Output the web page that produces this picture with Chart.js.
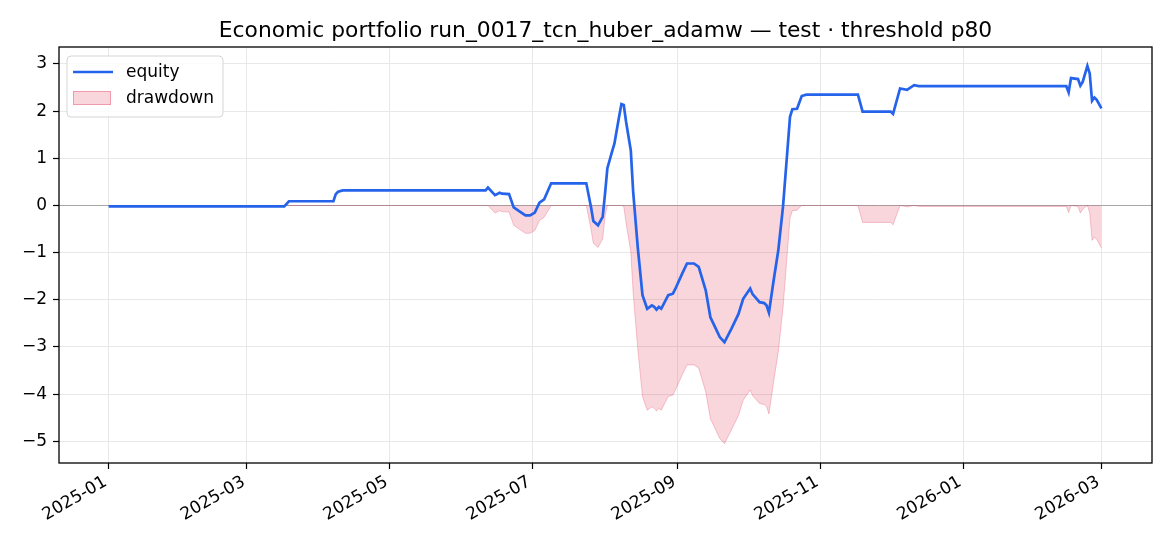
<!DOCTYPE html>
<html>
<head>
<meta charset="utf-8">
<script src="https://cdn.jsdelivr.net/npm/chart.js@4.4.1/dist/chart.umd.min.js"></script>
<style>
  html, body { margin: 0; padding: 0; background: #fff; }
</style>
</head>
<body>
<canvas id="c" width="1170" height="546"></canvas>
<script>
// values
const dates = [
  '2025-01-01','2025-03-17','2025-03-19','2025-04-07','2025-04-08','2025-04-09','2025-04-11',
  '2025-06-11','2025-06-12','2025-06-15','2025-06-17','2025-06-18','2025-06-21','2025-06-23',
  '2025-06-25','2025-06-28','2025-06-30','2025-07-02','2025-07-04','2025-07-06','2025-07-09',
  '2025-07-24','2025-07-26','2025-07-27','2025-07-29','2025-07-31','2025-08-01','2025-08-02',
  '2025-08-04','2025-08-05','2025-08-07','2025-08-08','2025-08-09','2025-08-10','2025-08-12',
  '2025-08-13','2025-08-15','2025-08-17','2025-08-19','2025-08-21','2025-08-22','2025-08-23',
  '2025-08-24','2025-08-25','2025-08-28','2025-08-30','2025-08-31','2025-09-03','2025-09-05',
  '2025-09-08','2025-09-10','2025-09-13','2025-09-15','2025-09-17','2025-09-19','2025-09-21',
  '2025-09-24','2025-09-27','2025-09-29','2025-10-02','2025-10-03','2025-10-06','2025-10-08',
  '2025-10-09','2025-10-10','2025-10-12','2025-10-14','2025-10-16','2025-10-18','2025-10-19',
  '2025-10-20','2025-10-22','2025-10-24','2025-10-26','2025-11-17','2025-11-19','2025-12-01',
  '2025-12-02','2025-12-05','2025-12-08','2025-12-11','2025-12-13','2026-02-14','2026-02-15',
  '2026-02-16','2026-02-19','2026-02-20','2026-02-21','2026-02-23','2026-02-24','2026-02-25',
  '2026-02-26','2026-02-27','2026-03-01'
];
const equity = [
  -0.02,-0.02,0.09,0.09,0.24,0.29,0.32,
  0.32,0.38,0.22,0.27,0.25,0.24,-0.04,
  -0.11,-0.21,-0.21,-0.15,0.06,0.13,0.47,
  0.47,-0.03,-0.33,-0.42,-0.24,0.25,0.79,
  1.14,1.31,1.88,2.15,2.13,1.77,1.17,
  0.30,-0.90,-1.90,-2.19,-2.12,-2.15,-2.21,
  -2.15,-2.19,-1.90,-1.87,-1.77,-1.44,-1.23,
  -1.23,-1.30,-1.80,-2.37,-2.58,-2.79,-2.90,
  -2.61,-2.30,-1.98,-1.76,-1.88,-2.05,-2.07,
  -2.12,-2.27,-1.59,-0.95,-0.03,1.24,1.88,
  2.04,2.05,2.32,2.35,2.35,1.99,1.99,
  1.94,2.48,2.45,2.55,2.53,2.53,2.40,
  2.70,2.68,2.54,2.62,2.96,2.80,2.22,
  2.29,2.24,2.06
];
const drawdown = [
  0,0,0,0,0,0,0,
  0,0,-0.16,-0.11,-0.13,-0.14,-0.42,
  -0.49,-0.59,-0.59,-0.53,-0.32,-0.25,0,
  0,-0.50,-0.80,-0.89,-0.71,-0.22,0,
  0,0,0,0,-0.02,-0.38,-0.98,
  -1.85,-3.05,-4.05,-4.34,-4.27,-4.30,-4.36,
  -4.30,-4.34,-4.05,-4.02,-3.92,-3.59,-3.38,
  -3.38,-3.45,-3.95,-4.52,-4.73,-4.94,-5.05,
  -4.76,-4.45,-4.13,-3.91,-4.03,-4.20,-4.22,
  -4.27,-4.42,-3.74,-3.10,-2.18,-0.91,-0.27,
  -0.11,-0.10,0,0,0,-0.36,-0.36,
  -0.41,0,-0.03,0,-0.02,-0.02,-0.15,
  0,-0.02,-0.16,-0.08,0,-0.16,-0.74,
  -0.67,-0.72,-0.90
];
const xTickLabels = ['2025-01','2025-03','2025-05','2025-07','2025-09','2025-11','2026-01','2026-03'];
const yTicks = [-5,-4,-3,-2,-1,0,1,2,3];

const titleText = 'Economic portfolio run_0017_tcn_huber_adamw \u2014 test \u00b7 threshold p80';
const FONT = '"DejaVu Sans", sans-serif';
const blue = '#2563eb';
const pinkFill = 'rgba(220,20,60,0.18)';
const pinkEdge = 'rgba(220,20,60,0.22)';

// days since 2025-01-01
const day = s => (Date.parse(s) - Date.parse('2025-01-01')) / 864e5;
const xTickDays = xTickLabels.map(l => day(l + '-01'));

const equityPts = dates.map((d, i) => ({ x: day(d), y: equity[i] }));
const ddPts = dates.map((d, i) => ({ x: day(d), y: drawdown[i] }));

const decor = {
  id: 'decor',
  afterDraw(chart) {
    const ctx = chart.ctx;
    const ca = chart.chartArea;
    ctx.save();
    // frame
    ctx.strokeStyle = '#000';
    ctx.lineWidth = 1.3;
    ctx.strokeRect(ca.left, ca.top, ca.right - ca.left, ca.bottom - ca.top);

    // title
    ctx.fillStyle = '#000';
    ctx.font = '21.8px ' + FONT;
    ctx.textAlign = 'center';
    ctx.textBaseline = 'alphabetic';
    ctx.fillText(titleText, (ca.left + ca.right) / 2, 37);

    // legend
    const lx = ca.left + 8, ly = ca.top + 9;
    ctx.beginPath();
    ctx.roundRect(lx, ly, 156, 61, 4);
    ctx.fillStyle = 'rgba(255,255,255,0.85)';
    ctx.fill();
    ctx.strokeStyle = '#d5d5d5';
    ctx.lineWidth = 1;
    ctx.stroke();

    ctx.beginPath();
    ctx.moveTo(lx + 6, ly + 16);
    ctx.lineTo(lx + 46, ly + 16);
    ctx.strokeStyle = blue;
    ctx.lineWidth = 2.6;
    ctx.stroke();

    ctx.fillStyle = pinkFill;
    ctx.fillRect(lx + 6, ly + 35, 38, 14);
    ctx.strokeStyle = 'rgba(220,20,60,0.3)';
    ctx.lineWidth = 1;
    ctx.strokeRect(lx + 6.5, ly + 35.5, 37, 13);

    ctx.fillStyle = '#000';
    ctx.font = '17px ' + FONT;
    ctx.textAlign = 'left';
    ctx.textBaseline = 'middle';
    ctx.fillText('equity', lx + 59, ly + 17);
    ctx.fillText('drawdown', lx + 59, ly + 43);
    ctx.restore();
  }
};

new Chart(document.getElementById('c'), {
  type: 'line',
  data: {
    datasets: [
      {
        label: 'drawdown',
        data: ddPts,
        fill: 'origin',
        backgroundColor: pinkFill,
        borderColor: pinkEdge,
        borderWidth: 1,
        pointRadius: 0,
        tension: 0,
        order: 2
      },
      {
        label: 'equity',
        data: equityPts,
        fill: false,
        borderColor: blue,
        borderWidth: 2.7,
        pointRadius: 0,
        tension: 0,
        order: 1
      }
    ]
  },
  options: {
    responsive: false,
    animation: false,
    devicePixelRatio: 1,
    layout: { padding: { top: 47, right: 18, left: 0, bottom: 0 } },
    plugins: {
      legend: { display: false },
      title: { display: false },
      tooltip: { enabled: false }
    },
    scales: {
      x: {
        type: 'linear',
        min: -21.2,
        max: 445.6,
        afterBuildTicks: s => { s.ticks = xTickDays.map(v => ({ value: v })); },
        afterFit: s => { s.height = 83; },
        grid: { color: '#e8e8e8', lineWidth: 1, tickLength: 6, tickColor: '#000', tickWidth: 1.2 },
        border: { display: false },
        ticks: {
          autoSkip: false,
          minRotation: 30,
          maxRotation: 30,
          padding: 3,
          labelOffset: -3,
          color: '#000',
          font: { family: FONT, size: 17 },
          callback: v => xTickLabels[xTickDays.indexOf(v)]
        }
      },
      y: {
        min: -5.46,
        max: 3.36,
        afterBuildTicks: s => { s.ticks = yTicks.map(v => ({ value: v })); },
        afterFit: s => { s.width = 59; },
        grid: {
          color: c => c.tick && c.tick.value === 0 ? '#a7a7a7' : '#e8e8e8',
          lineWidth: 1, tickLength: 6, tickColor: '#000', tickWidth: 1.2
        },
        border: { display: false },
        ticks: {
          padding: 6,
          color: '#000',
          font: { family: FONT, size: 17 },
          callback: v => (v < 0 ? '\u2212' + Math.abs(v) : String(v))
        }
      }
    }
  },
  plugins: [decor]
});
</script>
</body>
</html>
